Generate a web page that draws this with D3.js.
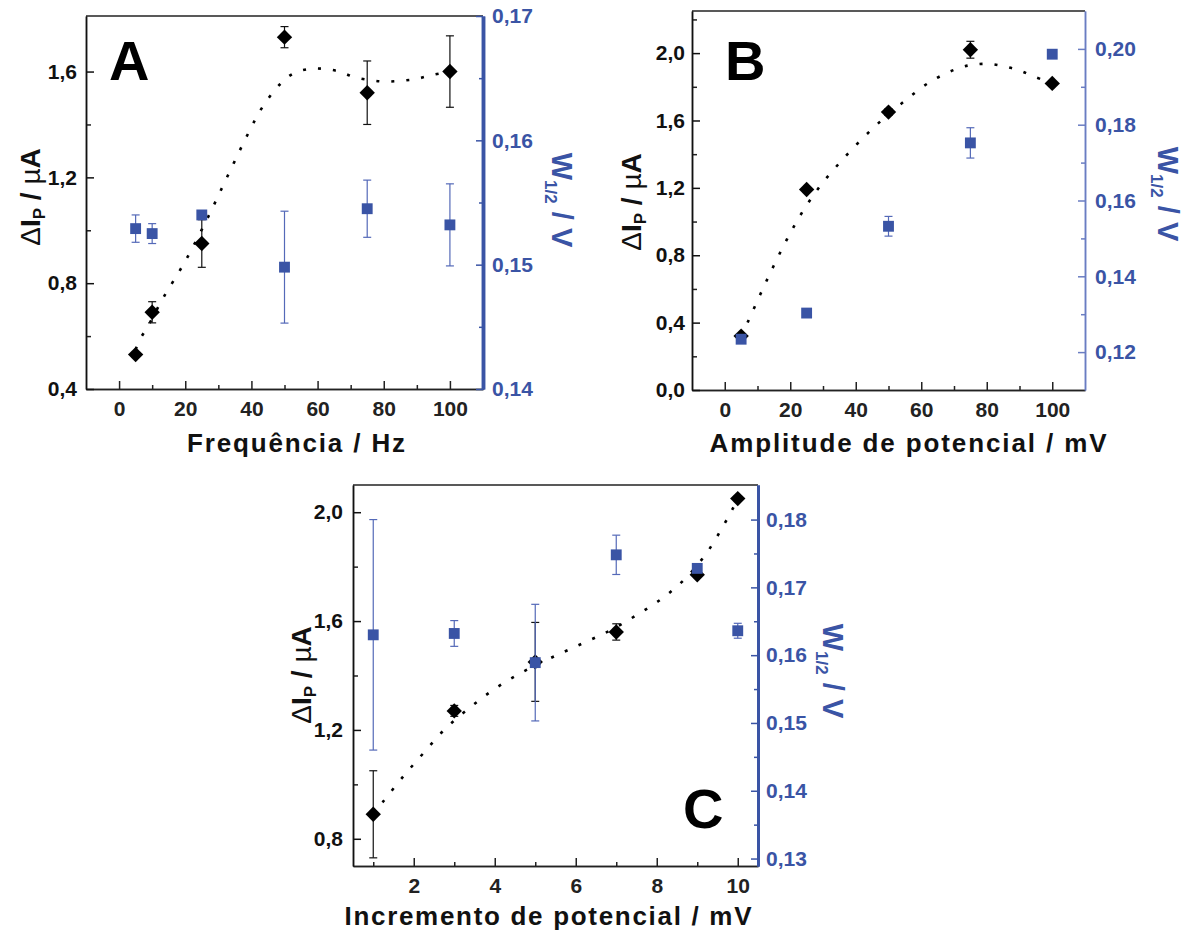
<!DOCTYPE html>
<html>
<head>
<meta charset="utf-8">
<script src="https://cdn.jsdelivr.net/npm/d3@7"></script>
<style>
  body { margin: 0; background: #fff; }
</style>
</head>
<body>
<script>
// ---- panel A : frequency ----
const freqA = [5, 10, 25, 50, 75, 100];
const ipA = [0.53, 0.69, 0.95, 1.73, 1.52, 1.60];
const ipErrA = [0, 0.04, 0.09, 0.04, 0.12, 0.135];
const wA = [0.1529, 0.1525, 0.1540, 0.1498, 0.1545, 0.1532];
const wErrA = [0.0011, 0.0008, 0.0003, 0.0045, 0.0023, 0.0033];
const fitAx = [5, 6.4, 8.6, 13.1, 20.2, 26.7, 32.8, 38.9, 43.3, 48.7, 52.7, 57.5, 62.0, 66.6, 70.8, 75.7, 80.2, 85.1, 89.8, 94.3, 100];
const fitAy = [0.55, 0.59, 0.635, 0.739, 0.888, 1.045, 1.205, 1.363, 1.465, 1.553, 1.593, 1.61, 1.61, 1.60, 1.58, 1.568, 1.562, 1.565, 1.572, 1.586, 1.60];

// ---- panel B : amplitude ----
const ampB = [5, 25, 50, 75, 100];
const ipB = [0.32, 1.19, 1.65, 2.02, 1.82];
const ipErrB = [0, 0, 0.02, 0.05, 0];
const wB = [0.1234, 0.1303, 0.1532, 0.1752, 0.1986];
const wErrB = [0, 0, 0.0026, 0.004, 0];
const fitBx = [5, 7.1, 12.9, 19.1, 23.8, 28.9, 34.9, 41.2, 48.1, 55.2, 63.0, 71.6, 76.2, 80.8, 85.3, 89.9, 94.3, 100];
const fitBy = [0.32, 0.406, 0.654, 0.899, 1.06, 1.205, 1.345, 1.476, 1.605, 1.72, 1.833, 1.912, 1.932, 1.936, 1.922, 1.898, 1.862, 1.82];

// ---- panel C : step increment ----
const incC = [1, 3, 5, 7, 9, 10];
const ipC = [0.89, 1.27, 1.45, 1.56, 1.77, 2.05];
const ipErrC = [0.16, 0.02, 0.145, 0.03, 0, 0];
const wC = [0.1630, 0.1632, 0.1589, 0.1748, 0.1728, 0.1636];
const wErrC = [0.017, 0.0019, 0.0086, 0.0029, 0.0005, 0.0011];
const fitCx = [1, 1.235, 1.746, 2.247, 2.783, 3.375, 4.01, 4.69, 5.39, 6.11, 6.83, 7.47, 8.13, 8.71, 9.24, 9.67, 9.87, 10];
const fitCy = [0.89, 0.935, 1.03, 1.116, 1.205, 1.281, 1.352, 1.413, 1.465, 1.514, 1.564, 1.619, 1.683, 1.757, 1.852, 1.957, 2.011, 2.05];

const FONT = '"Liberation Sans", Arial, sans-serif';
const BLUE = '#3a54a5';
const BLUE_ERR = '#5469b8';
const loc = d3.formatLocale({decimal: ',', thousands: '.', grouping: [3], currency: ['', '']});

const svg = d3.select('body').append('svg')
  .attr('width', 1184)
  .attr('height', 931)
  .style('background', '#fff');

function styleAxis(sel, color, width) {
  sel.attr('font-family', FONT).attr('font-size', 21).attr('font-weight', 'bold');
  sel.select('.domain').attr('stroke', color).attr('stroke-width', width);
  sel.selectAll('line').attr('stroke', color).attr('stroke-width', 1.5);
  sel.selectAll('text').attr('fill', color);
}

function panel(p) {
  const g = svg.append('g');
  const x = d3.scaleLinear().domain(p.xDom).range([p.left, p.right]);
  const yL = d3.scaleLinear().domain(p.yDom).range([p.bottom, p.top]);
  const yR = d3.scaleLinear().domain(p.wDom).range([p.bottom, p.top]);

  // top frame line
  g.append('line')
    .attr('x1', p.left).attr('x2', p.right)
    .attr('y1', p.top).attr('y2', p.top)
    .attr('stroke', '#222').attr('stroke-width', 1.5);

  // x axis
  g.append('g').attr('transform', 'translate(0,' + p.bottom + ')')
    .call(d3.axisBottom(x).tickValues(p.xMinor).tickSize(-4).tickSizeOuter(0).tickFormat(''))
    .call(s => styleAxis(s, '#222', 1.5));
  g.append('g').attr('transform', 'translate(0,' + p.bottom + ')')
    .call(d3.axisBottom(x).tickValues(p.xMajor).tickSize(-8).tickSizeOuter(0).tickPadding(12).tickFormat(d3.format('d')))
    .call(s => styleAxis(s, '#222', 1.5));

  // left axis
  g.append('g').attr('transform', 'translate(' + p.left + ',0)')
    .call(d3.axisLeft(yL).tickValues(p.yMinor).tickSize(-5).tickSizeOuter(0).tickFormat(''))
    .call(s => styleAxis(s, '#222', 1.5));
  g.append('g').attr('transform', 'translate(' + p.left + ',0)')
    .call(d3.axisLeft(yL).tickValues(p.yMajor).tickSize(-8).tickSizeOuter(0).tickPadding(p.leftPad).tickFormat(loc.format('.1f')))
    .call(s => styleAxis(s, '#111', 1.5));

  // right axis
  g.append('g').attr('transform', 'translate(' + p.right + ',0)')
    .call(d3.axisRight(yR).tickValues(p.wMinor).tickSize(-4).tickSizeOuter(0).tickFormat(''))
    .call(s => styleAxis(s, p.rightColor, p.rightWidth));
  g.append('g').attr('transform', 'translate(' + p.right + ',0)')
    .call(d3.axisRight(yR).tickValues(p.wMajor).tickSize(-7).tickSizeOuter(0).tickPadding(p.rightPad).tickFormat(loc.format('.2f')))
    .call(s => styleAxis(s, p.rightColor, p.rightWidth))
    .call(s => s.selectAll('text').attr('fill', BLUE));

  // dotted fit curve
  const line = d3.line()
    .x(d => x(d[0]))
    .y(d => yL(d[1]))
    .curve(d3.curveCatmullRom.alpha(0.5));
  g.append('path')
    .datum(d3.zip(p.fitX, p.fitY))
    .attr('d', line)
    .attr('fill', 'none')
    .attr('stroke', '#000')
    .attr('stroke-width', 2.6)
    .attr('stroke-dasharray', '3,12');

  // black diamonds with error bars
  const ipData = p.xs.map((v, i) => ({x: v, y: p.ip[i], e: p.ipErr[i]}));
  const eb = g.append('g').attr('stroke', '#111').attr('stroke-width', 1.2);
  ipData.filter(d => d.e > 0).forEach(d => {
    eb.append('line').attr('x1', x(d.x)).attr('x2', x(d.x)).attr('y1', yL(d.y - d.e)).attr('y2', yL(d.y + d.e));
    [d.y - d.e, d.y + d.e].forEach(v => {
      eb.append('line').attr('x1', x(d.x) - 4).attr('x2', x(d.x) + 4).attr('y1', yL(v)).attr('y2', yL(v));
    });
  });
  g.append('g').selectAll('path')
    .data(ipData)
    .join('path')
    .attr('d', d3.symbol(d3.symbolSquare, 118))
    .attr('transform', d => 'translate(' + x(d.x) + ',' + yL(d.y) + ') rotate(45)')
    .attr('fill', '#000');

  // blue squares with error bars
  const wData = p.xs.map((v, i) => ({x: v, y: p.w[i], e: p.wErr[i]}));
  const ebw = g.append('g').attr('stroke', BLUE_ERR).attr('stroke-width', 1.2);
  wData.filter(d => d.e > 0).forEach(d => {
    ebw.append('line').attr('x1', x(d.x)).attr('x2', x(d.x)).attr('y1', yR(d.y - d.e)).attr('y2', yR(d.y + d.e));
    [d.y - d.e, d.y + d.e].forEach(v => {
      ebw.append('line').attr('x1', x(d.x) - 4).attr('x2', x(d.x) + 4).attr('y1', yR(v)).attr('y2', yR(v));
    });
  });
  g.append('g').selectAll('path')
    .data(wData)
    .join('path')
    .attr('d', d3.symbol(d3.symbolSquare, 118))
    .attr('transform', d => 'translate(' + x(d.x) + ',' + yR(d.y) + ')')
    .attr('fill', BLUE);

  // axis titles
  g.append('text')
    .attr('x', p.xTitle[0]).attr('y', p.xTitle[1])
    .attr('text-anchor', 'middle')
    .attr('font-family', FONT).attr('font-size', 26).attr('font-weight', 'bold')
    .attr('textLength', p.xTitleLen).attr('lengthAdjust', 'spacing')
    .attr('fill', '#111')
    .text(p.xLabel);

  const yt = g.append('text')
    .attr('transform', 'translate(' + p.yTitle[0] + ',' + p.yTitle[1] + ') rotate(-90)')
    .attr('text-anchor', 'middle')
    .attr('font-family', FONT).attr('font-size', 28).attr('font-weight', 'bold')
    .attr('fill', '#111');
  yt.append('tspan').attr('font-weight', 'normal').text('\u0394');
  yt.append('tspan').text('I');
  yt.append('tspan').attr('font-size', 17).attr('dy', 5).text('P');
  yt.append('tspan').attr('dy', -5).text(' / ');
  yt.append('tspan').attr('font-weight', 'normal').text('\u00b5');
  yt.append('tspan').text('A');

  const wt = g.append('text')
    .attr('transform', 'translate(' + p.wTitle[0] + ',' + p.wTitle[1] + ') rotate(90)')
    .attr('text-anchor', 'middle')
    .attr('font-family', FONT).attr('font-size', 29).attr('font-weight', 'bold')
    .attr('fill', BLUE);
  wt.append('tspan').text('W');
  wt.append('tspan').attr('font-size', 17).attr('dy', 7).text('1/2');
  wt.append('tspan').attr('dy', -7).text(' / V');

  // panel letter
  g.append('text')
    .attr('x', p.letterPos[0]).attr('y', p.letterPos[1])
    .attr('font-family', FONT).attr('font-size', 56).attr('font-weight', 'bold')
    .attr('fill', '#000')
    .text(p.letter);
}

panel({
  left: 86, right: 483, top: 16, bottom: 389,
  xDom: [-10, 110], yDom: [0.4, 1.81], wDom: [0.14, 0.17],
  xMajor: [0, 20, 40, 60, 80, 100], xMinor: [10, 30, 50, 70, 90],
  yMajor: [0.4, 0.8, 1.2, 1.6], yMinor: [0.6, 1.0, 1.4],
  wMajor: [0.14, 0.15, 0.16, 0.17], wMinor: [0.145, 0.155, 0.165],
  leftPad: 9, rightPad: 9, rightColor: BLUE, rightWidth: 3.5,
  xs: freqA, ip: ipA, ipErr: ipErrA, w: wA, wErr: wErrA, fitX: fitAx, fitY: fitAy,
  xLabel: 'Frequência / Hz', xTitle: [296, 452], xTitleLen: 218,
  yTitle: [40, 197], wTitle: [552, 200],
  letter: 'A', letterPos: [109, 80]
});

panel({
  left: 692, right: 1085, top: 11, bottom: 390,
  xDom: [-10, 110], yDom: [0, 2.25], wDom: [0.11, 0.21],
  xMajor: [0, 20, 40, 60, 80, 100], xMinor: [10, 30, 50, 70, 90],
  yMajor: [0, 0.4, 0.8, 1.2, 1.6, 2.0], yMinor: [0.2, 0.6, 1.0, 1.4, 1.8, 2.2],
  wMajor: [0.12, 0.14, 0.16, 0.18, 0.20], wMinor: [0.13, 0.15, 0.17, 0.19],
  leftPad: 7, rightPad: 10, rightColor: '#6a7dc2', rightWidth: 1.5,
  xs: ampB, ip: ipB, ipErr: ipErrB, w: wB, wErr: wErrB, fitX: fitBx, fitY: fitBy,
  xLabel: 'Amplitude de potencial / mV', xTitle: [908, 452], xTitleLen: 397,
  yTitle: [641, 202], wTitle: [1158, 194],
  letter: 'B', letterPos: [725, 80]
});

panel({
  left: 353, right: 758, top: 485, bottom: 866,
  xDom: [0.5, 10.5], yDom: [0.7, 2.1], wDom: [0.1289, 0.1851],
  xMajor: [2, 4, 6, 8, 10], xMinor: [1, 3, 5, 7, 9],
  yMajor: [0.8, 1.2, 1.6, 2.0], yMinor: [1.0, 1.4, 1.8],
  wMajor: [0.13, 0.14, 0.15, 0.16, 0.17, 0.18], wMinor: [0.135, 0.145, 0.155, 0.165, 0.175],
  leftPad: 10, rightPad: 8, rightColor: BLUE, rightWidth: 3,
  xs: incC, ip: ipC, ipErr: ipErrC, w: wC, wErr: wErrC, fitX: fitCx, fitY: fitCy,
  xLabel: 'Incremento de potencial / mV', xTitle: [548, 925], xTitleLen: 407,
  yTitle: [311, 675], wTitle: [823, 671],
  letter: 'C', letterPos: [683, 828]
});
</script>
</body>
</html>
